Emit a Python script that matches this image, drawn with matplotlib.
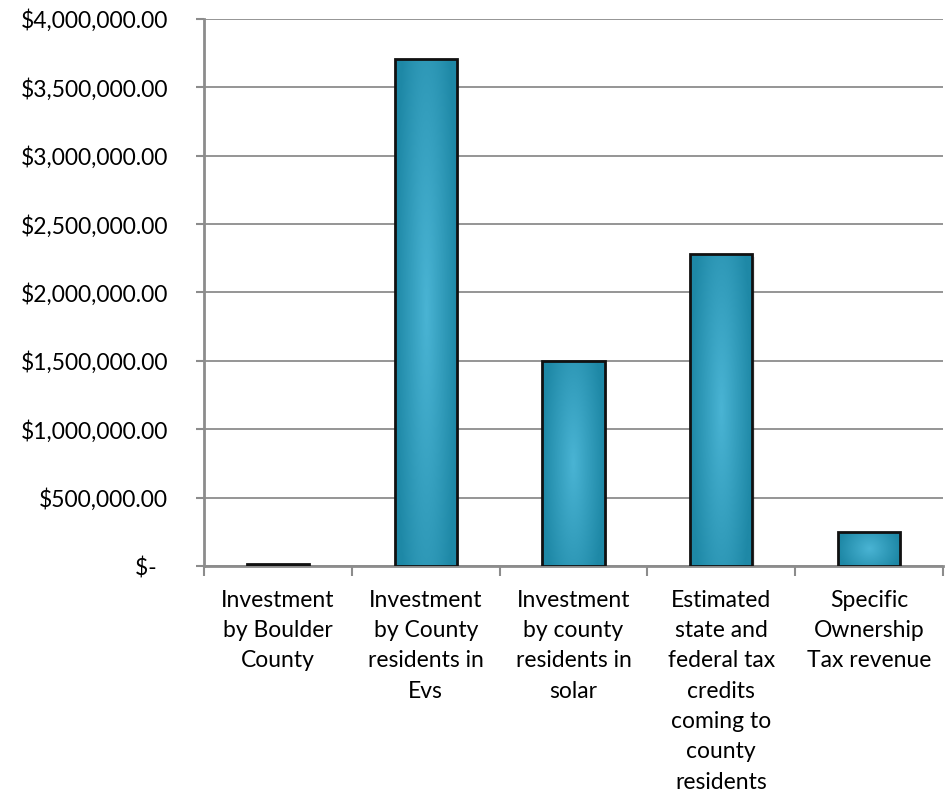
import numpy as np
import matplotlib
matplotlib.use('Agg')
import matplotlib.pyplot as plt
from matplotlib.ticker import FuncFormatter, MultipleLocator

plt.rcParams['font.family'] = ['Lato', 'DejaVu Sans']

# data
categories = ['Investment\nby Boulder\nCounty',
              'Investment\nby County\nresidents in\nEvs',
              'Investment\nby county\nresidents in\nsolar',
              'Estimated\nstate and\nfederal tax\ncredits\ncoming to\ncounty\nresidents',
              'Specific\nOwnership\nTax revenue']
values = [12000, 3710000, 1500000, 2285000, 250000]

def money(v, pos):
    if v == 0:
        return '$-  '
    return '${:,.2f}'.format(v)

fig = plt.figure(figsize=(9.52, 7.97), dpi=100)
ax = fig.add_axes([0.2143, 0.2898, 0.7762, 0.6864])

x = np.arange(len(values))
width = 0.42

# radial-ish gradient used to fill each bar
ny, nx = 100, 60
gy, gx = np.mgrid[-1:1:ny * 1j, -1:1:nx * 1j]
r = np.sqrt((gx / 1.0) ** 2 + (gy / 1.6) ** 2)
r = np.clip(r, 0, 1)
light = np.array([0x4a, 0xb4, 0xd4]) / 255.0
dark = np.array([0x1e, 0x88, 0xa6]) / 255.0
grad = light[None, None, :] * (1 - r[..., None]) + dark[None, None, :] * r[..., None]

bars = ax.bar(x, values, width, facecolor='none', edgecolor='#111111', linewidth=2, zorder=4)
for b in bars:
    bx, by = b.get_x(), b.get_y()
    bw, bh = b.get_width(), b.get_height()
    # soft shadow
    ax.bar(bx + bw / 2 + 0.015, bh, bw, bottom=-25000, color='#000000', alpha=0.08,
           linewidth=0, zorder=2)
    im = ax.imshow(grad, extent=[bx, bx + bw, by, by + bh], aspect='auto',
                   zorder=3, interpolation='bilinear')
    im.set_clip_path(b)

ax.set_xlim(-0.5, len(values) - 0.5)
ax.set_ylim(0, 4000000)
ax.yaxis.set_major_locator(MultipleLocator(500000))
ax.yaxis.set_major_formatter(FuncFormatter(money))
ax.grid(axis='y', color='#8c8c8c', linewidth=1.3, zorder=0)
ax.set_axisbelow(True)

ax.set_xticks(x)
ax.set_xticklabels(categories, fontsize=16.5, linespacing=1.55)
ax.set_xticks(np.arange(len(values) + 1) - 0.5, minor=True)
ax.tick_params(axis='x', which='major', length=0, pad=17)
ax.tick_params(axis='x', which='minor', length=7, width=1.5, color='#8c8c8c')
ax.tick_params(axis='y', labelsize=16.5, length=6, width=1.5, color='#8c8c8c', pad=20)

for s in ['top', 'right']:
    ax.spines[s].set_visible(False)
for s in ['left', 'bottom']:
    ax.spines[s].set_color('#8c8c8c')
    ax.spines[s].set_linewidth(2)

fig.savefig('out.png', dpi=100)
